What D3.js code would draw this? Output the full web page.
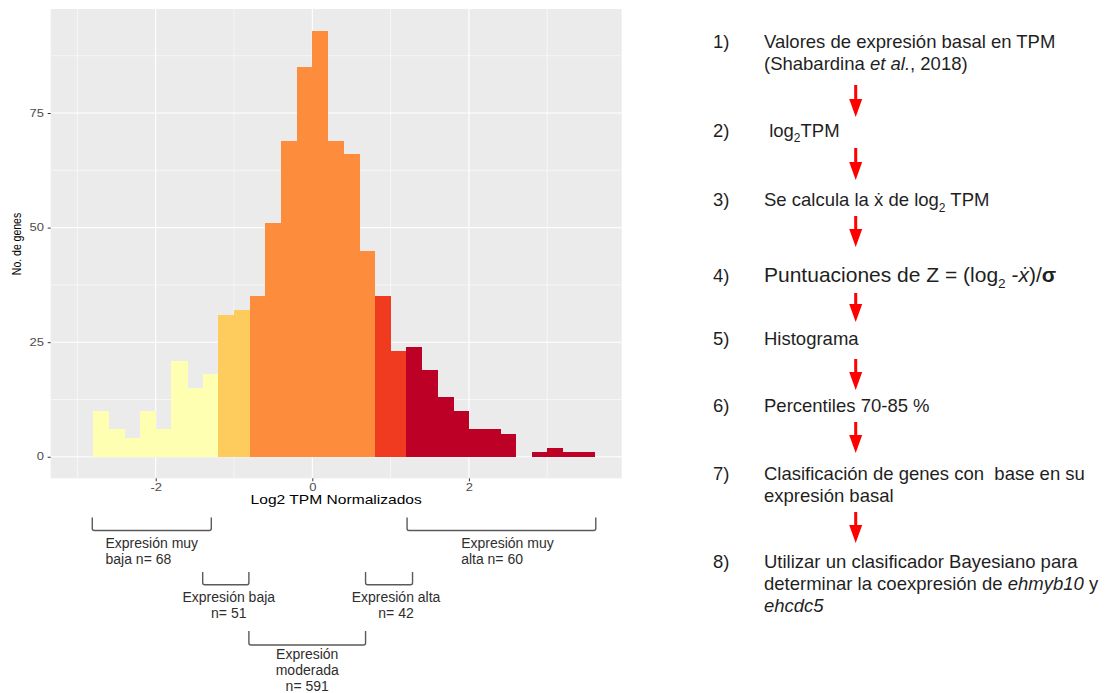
<!DOCTYPE html>
<html>
<head>
<meta charset="utf-8">
<script src="https://cdn.jsdelivr.net/npm/d3@7"></script>
<style>
  body { margin: 0; background: #fff; }
  svg { display: block; font-family: "Liberation Sans", Arial, sans-serif; }
  text { white-space: pre; }
</style>
</head>
<body>
<script>
// histogram of log2 TPM (normalizados), bin width 0.2
const binStart = [-2.8, -2.6, -2.4, -2.2, -2.0, -1.8, -1.6, -1.4, -1.2, -1.0, -0.8, -0.6, -0.4, -0.2, 0.0, 0.2,
                  0.4, 0.6, 0.8, 1.0, 1.2, 1.4, 1.6, 1.8, 2.0, 2.2, 2.4, 2.6, 2.8, 3.0, 3.2, 3.4];
const binWidth = 0.2;
const binCount = [10, 6, 4, 10, 6, 21, 15, 18, 31, 32, 35, 51, 69, 85, 93, 69,
                  66, 45, 35, 23, 24, 19, 13, 10, 6, 6, 5, 0, 1, 2, 1, 1];
const binGroup = [0, 0, 0, 0, 0, 0, 0, 0, 1, 1, 2, 2, 2, 2, 2, 2,
                  2, 2, 3, 3, 4, 4, 4, 4, 4, 4, 4, 4, 4, 4, 4, 4];

// expression groups
const groupColors = ["#ffffb2", "#fecc5c", "#fd8d3c", "#f03b20", "#bd0026"];
const groupLabels = [
  ["Expresión muy", "baja n= 68"],
  ["Expresión baja", "n= 51"],
  ["Expresión", "moderada", "n= 591"],
  ["Expresión alta", "n= 42"],
  ["Expresión muy", "alta n= 60"]
];
const groupSpan = [[-2.81, -1.29], [-1.40, -0.81], [-0.81, 0.68], [0.68, 1.28], [1.21, 3.62]];

const xTicks = [-2, 0, 2];
const yTicks = [0, 25, 50, 75];

// pipeline steps (segments: plain string, or [text, style])
const steps = [
  [["Valores de expresión basal en TPM"], ["(Shabardina ", ["et al.", "i"], ", 2018)"]],
  [[" log", ["2", "sub"], "TPM"]],
  [["Se calcula la ẋ de log", ["2", "sub"], " TPM"]],
  [["Puntuaciones de Z = (log", ["2", "sub"], " -", ["ẋ", "i"], ")/", ["σ", "b"]]],
  [["Histograma"]],
  [["Percentiles 70-85 %"]],
  [["Clasificación de genes con  base en su"], ["expresión basal"]],
  [["Utilizar un clasificador Bayesiano para"], ["determinar la coexpresión de ", ["ehmyb10", "i"], " y"], [["ehcdc5", "i"]]]
];

const W = 1107, H = 693;
const svg = d3.select("body").append("svg").attr("width", W).attr("height", H);

// ---- histogram panel ----
const panel = { left: 50.7, right: 621.7, top: 9, bottom: 478.3 };
const x = d3.scaleLinear().domain([-3.341, 3.951]).range([panel.left, panel.right]);
const y = d3.scaleLinear().domain([-4.7, 97.7]).range([panel.bottom, panel.top]);
const stretch = 1.3; // the plot image was widened

svg.append("rect")
  .attr("x", panel.left).attr("y", panel.top)
  .attr("width", panel.right - panel.left).attr("height", panel.bottom - panel.top)
  .attr("fill", "#ebebeb");

const grid = svg.append("g").attr("stroke", "#fff");
grid.selectAll(".vmin").data([-3, -1, 1, 3]).join("line")
  .attr("x1", d => x(d)).attr("x2", d => x(d)).attr("y1", panel.top).attr("y2", panel.bottom)
  .attr("stroke-width", 0.55);
grid.selectAll(".hmin").data([12.5, 37.5, 62.5, 87.5]).join("line")
  .attr("y1", d => y(d)).attr("y2", d => y(d)).attr("x1", panel.left).attr("x2", panel.right)
  .attr("stroke-width", 0.55);
grid.selectAll(".vmaj").data(xTicks).join("line")
  .attr("x1", d => x(d)).attr("x2", d => x(d)).attr("y1", panel.top).attr("y2", panel.bottom)
  .attr("stroke-width", 1.1);
grid.selectAll(".hmaj").data(yTicks).join("line")
  .attr("y1", d => y(d)).attr("y2", d => y(d)).attr("x1", panel.left).attr("x2", panel.right)
  .attr("stroke-width", 1.1);

svg.append("g").attr("shape-rendering", "crispEdges").selectAll("rect")
  .data(binStart.map((s, i) => ({ s, n: binCount[i], g: binGroup[i] })).filter(d => d.n > 0))
  .join("rect")
  .attr("x", d => x(d.s))
  .attr("width", d => x(d.s + binWidth) - x(d.s) + 0.5)
  .attr("y", d => y(d.n))
  .attr("height", d => y(0) - y(d.n))
  .attr("fill", d => groupColors[d.g]);

// axes
const xAxis = svg.append("g").attr("transform", `translate(0,${panel.bottom})`)
  .call(d3.axisBottom(x).tickValues(xTicks).tickFormat(d => String(d)).tickSize(3).tickPadding(2.3));
const yAxis = svg.append("g").attr("transform", `translate(${panel.left},0)`)
  .call(d3.axisLeft(y).tickValues(yTicks).tickFormat(d => String(d)).tickSize(3).tickPadding(3.7));
[xAxis, yAxis].forEach(a => {
  a.select(".domain").remove();
  a.selectAll(".tick line").attr("stroke", "#333").attr("stroke-width", 1);
  a.selectAll(".tick text").attr("fill", "#4d4d4d").style("font-size", "10px");
  a.attr("font-family", null);
});
xAxis.selectAll(".tick text").attr("transform", `scale(${stretch},1)`);
yAxis.selectAll(".tick text").attr("x", -6.7 / stretch).attr("transform", `scale(${stretch},1)`);

svg.append("text")
  .attr("transform", `translate(${(panel.left + panel.right) / 2},504) scale(${stretch},1)`)
  .attr("text-anchor", "middle").attr("fill", "#000").style("font-size", "12px")
  .text("Log2 TPM Normalizados");
svg.append("text")
  .attr("transform", `translate(21,244) rotate(-90) scale(1,${stretch})`)
  .attr("text-anchor", "middle").attr("fill", "#000").style("font-size", "10.5px")
  .text("No. de genes");

// ---- group brackets ----
const bracketRow = [0, 1, 2, 1, 0];
const rowTop = [517.5, 572, 631];
const rowBottom = [530.5, 584.7, 645];
const labelGap = [17.2, 17.3, 14];
const labelDx = [0, 3, 0, 7, 6];
const labelAlign = ["block", "middle", "middle", "middle", "block"];

const br = svg.append("g");
groupSpan.forEach((sp, i) => {
  const r = bracketRow[i];
  const x0 = x(sp[0]), x1 = x(sp[1]);
  br.append("path")
    .attr("d", `M${x0},${rowTop[r]}V${rowBottom[r] - 2}Q${x0},${rowBottom[r]} ${x0 + 2},${rowBottom[r]}` +
               `H${x1 - 2}Q${x1},${rowBottom[r]} ${x1},${rowBottom[r] - 2}V${rowTop[r]}`)
    .attr("fill", "none").attr("stroke", "#5a5a5a").attr("stroke-width", 1.4);

  const cx = (x0 + x1) / 2 + labelDx[i];
  const t = br.append("text").attr("fill", "#2e2e2e").style("font-size", "14px");
  groupLabels[i].forEach((line, k) => {
    t.append("tspan").attr("x", cx).attr("y", rowBottom[r] + labelGap[r] + k * 15.8).text(line);
  });
  if (labelAlign[i] === "middle") {
    t.attr("text-anchor", "middle");
  } else {
    const w = t.select("tspan").node().getComputedTextLength();
    t.selectAll("tspan").attr("x", cx - w / 2);
  }
});

// ---- pipeline on the right ----
const stepBaseline = [48.3, 136.7, 206, 281.7, 345, 412.3, 480, 568.3];
const stepSize = [18.5, 18.5, 18.5, 21, 18.5, 18.5, 18.5, 18.5];
const arrowSpan = [[85, 117], [148, 180], [216, 247], [293, 322], [359, 390], [422, 453], [512, 543]];
const numX = 713, textX = 764, arrowX = 855.7, lineH = 21.6;

const pipe = svg.append("g").attr("fill", "#1f1f1f");
steps.forEach((lines, i) => {
  const fs = stepSize[i];
  pipe.append("text").attr("x", numX).attr("y", stepBaseline[i])
    .style("font-size", "18.5px").text(`${i + 1})`);
  lines.forEach((segs, k) => {
    const t = pipe.append("text").attr("x", textX).attr("y", stepBaseline[i] + k * lineH)
      .style("font-size", fs + "px");
    let sub = false;
    segs.forEach(seg => {
      const [txt, st] = typeof seg === "string" ? [seg, null] : seg;
      const ts = t.append("tspan").text(txt);
      if (st === "i") ts.style("font-style", "italic");
      if (st === "b") ts.style("font-weight", "bold");
      if (st === "sub") { ts.style("font-size", (fs * 0.65) + "px").attr("dy", fs * 0.3); sub = true; }
      else if (sub) { ts.attr("dy", -fs * 0.3); sub = false; }
    });
  });
});

const arrows = svg.append("g").attr("fill", "#ff0000");
arrowSpan.forEach(([top, tip]) => {
  const headH = 18, headW = 13, shaftW = 3;
  arrows.append("path").attr("d",
    `M${arrowX - shaftW / 2},${top}H${arrowX + shaftW / 2}V${tip - headH}H${arrowX + headW / 2}` +
    `L${arrowX},${tip}L${arrowX - headW / 2},${tip - headH}H${arrowX - shaftW / 2}Z`);
});
</script>
</body>
</html>
